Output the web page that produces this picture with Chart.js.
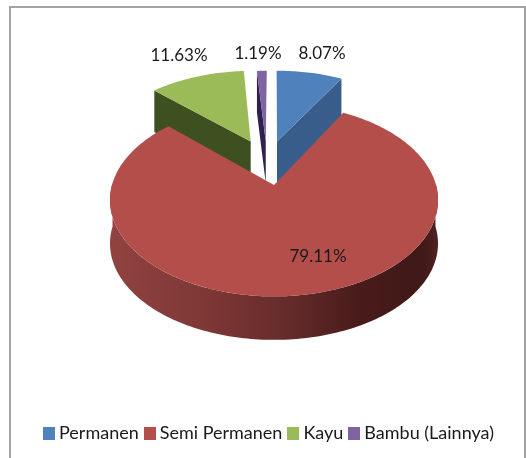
<!DOCTYPE html>
<html><head><meta charset="utf-8">
<script src="https://cdn.jsdelivr.net/npm/chart.js@4"></script>
<style>
html,body{margin:0;padding:0;background:#fff;width:526px;height:458px;overflow:hidden}
#frame{position:absolute;left:9px;top:6px;width:517px;height:460px;border:2px solid #a3a3a3;box-sizing:border-box}
#wrap{position:absolute;left:0;top:0;width:526px;height:458px}
</style></head><body>
<div id="frame"></div>
<div id="wrap"><canvas id="c" width="526" height="458"></canvas></div>
<script>
const categories = ['Permanen','Semi Permanen','Kayu','Bambu (Lainnya)'];
const shares = [8.07,79.11,11.63,1.19];
const topColors = ['#4f81bd','#b44e4b','#9bbb59','#8064a2'];
const sideColors = ['#385d8a','#7a3433','#3f5020','#2e2050'];

// 3D view of the pie: perspective disc projection
const view = {cx:274, cy:185, R:162, A:94, k:0.156, depth:43.5};
// how far each slice is pulled out of the pie, in disc radii
const pullU = [0.02,0,-0.155,-0.055];
const pullV = [-0.50,0,-0.50,-0.50];
const labelX = [322,318,179,258];
const labelY = [54,257,56,54];
const font3d = '17px Lato';

function project(u,v){const w=1-view.k*v;return [view.cx+view.R*u/w,view.cy+view.A*v/w];}
function arcPts(a0,a1,ou,ov){const n=Math.max(2,Math.ceil((a1-a0)/0.02));const p=[];
  for(let i=0;i<=n;i++){const a=a0+(a1-a0)*i/n;p.push(project(ou+Math.cos(a),ov+Math.sin(a)));}return p;}
function poly(ctx,pts,fill){ctx.beginPath();pts.forEach((p,i)=>i?ctx.lineTo(p[0],p[1]):ctx.moveTo(p[0],p[1]));ctx.closePath();ctx.fillStyle=fill;ctx.fill();}
function down(p,d){return [p[0],p[1]+d];}

const pie3d = {
  id:'pie3d',
  beforeDatasetsDraw(chart){
    const ctx=chart.ctx, arcs=chart.getDatasetMeta(0).data, d=view.depth;
    ctx.save();
    // pulled-out slices first (they sit behind the big one)
    [3,2,0].forEach(i=>{
      const {startAngle:s,endAngle:e}=arcs[i].getProps(['startAngle','endAngle'],true);
      const ou=pullU[i],ov=pullV[i],apex=project(ou,ov),pts=arcPts(s,e,ou,ov);
      const edge=i===0?pts[pts.length-1]:pts[0];
      poly(ctx,[apex,edge,down(edge,d-2),down(apex,d-2)],sideColors[i]);
      poly(ctx,[apex,...pts],topColors[i]);
    });
    // main slice: rim then top
    const {startAngle:s,endAngle:e}=arcs[1].getProps(['startAngle','endAngle'],true);
    const rim=arcPts(Math.max(s,-0.02),Math.min(e,Math.PI+0.02),0,0);
    const g=ctx.createLinearGradient(110,0,438,0);
    g.addColorStop(0,'#914341');g.addColorStop(0.3,'#7d3735');g.addColorStop(0.55,'#642b2a');g.addColorStop(0.75,'#491c1b');g.addColorStop(0.95,'#3f1917');g.addColorStop(1,'#4f2220');
    poly(ctx,[...rim,...rim.slice().reverse().map(p=>down(p,d))],g);
    poly(ctx,[project(0,0),...arcPts(s,e,0,0)],topColors[1]);
    // value labels
    ctx.fillStyle='#1a1a1a';ctx.font=font3d;ctx.textAlign='center';ctx.textBaseline='middle';
    shares.forEach((v,i)=>ctx.fillText(v.toFixed(2)+'%',labelX[i],labelY[i]));
    ctx.restore();
    return false;
  }
};
function swatch(color){const c=document.createElement('canvas');c.width=12;c.height=13;const x=c.getContext('2d');x.fillStyle=color;x.fillRect(0,0,12,13);return c;}
new Chart(document.getElementById('c'),{
  type:'pie',
  data:{labels:categories,datasets:[{data:shares,backgroundColor:topColors,borderWidth:0}]},
  options:{
    responsive:false,animation:false,
    layout:{padding:{left:16,right:0,top:20,bottom:6}},
    plugins:{
      tooltip:{enabled:false},
      legend:{position:'bottom',labels:{
        usePointStyle:true,pointStyleWidth:2,padding:10,color:'#1a1a1a',font:{family:'Lato',size:18},
        generateLabels:ch=>categories.map((t,i)=>({text:t,fillStyle:topColors[i],strokeStyle:topColors[i],lineWidth:0,pointStyle:swatch(topColors[i]),hidden:false,index:i,fontColor:'#1a1a1a'}))
      }}
    }
  },
  plugins:[pie3d]
});
</script></body></html>
